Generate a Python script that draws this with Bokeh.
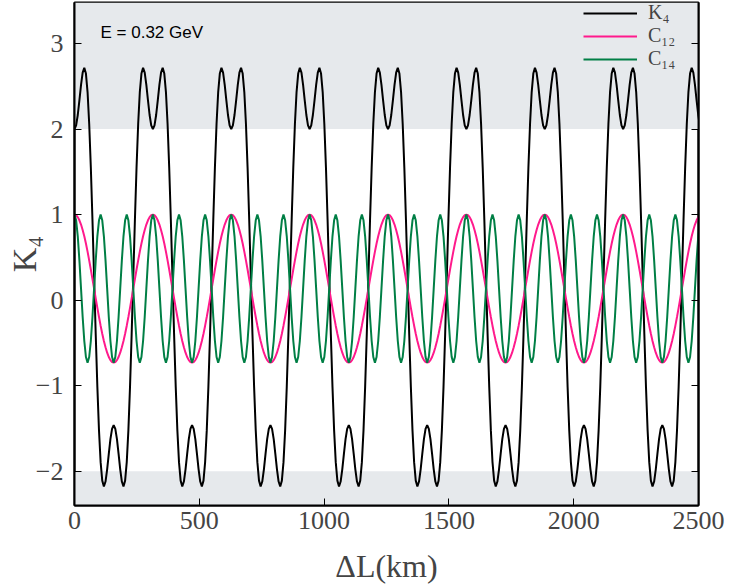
import numpy as np
from bokeh.plotting import figure
from bokeh.models import (BoxAnnotation, Legend, LegendItem, Label, LinearAxis,
                          FixedTicker, Range1d, ColumnDataSource)
from bokeh.embed import file_html
from bokeh.resources import INLINE

# ---- data ----
energy_text = "E = 0.32 GeV"
x_title = "\u0394L(km)"
y_title = "K\u2084"
period_km = 314.0          # length of one full oscillation of C12 (km)
n_periods = 8              # oscillations of C12 shown in 0..2500 km
samples_per_period = 48

# one period of each curve, sampled at 48 equally spaced points
K4_period = [2.000, 2.044, 2.165, 2.337, 2.517, 2.660, 2.717, 2.649, 2.433, 2.062,
             1.553, 0.940, 0.270, -0.400, -1.013, -1.522, -1.893, -2.109, -2.177, -2.120,
             -1.977, -1.797, -1.625, -1.504, -1.460, -1.504, -1.625, -1.797, -1.977, -2.120,
             -2.177, -2.109, -1.893, -1.522, -1.013, -0.400, 0.270, 0.940, 1.553, 2.062,
             2.433, 2.649, 2.717, 2.660, 2.517, 2.337, 2.165, 2.044]
C12_period = [1.000, 0.993, 0.971, 0.934, 0.884, 0.821, 0.747, 0.662, 0.568, 0.466,
              0.359, 0.248, 0.135, 0.022, -0.089, -0.196, -0.298, -0.392, -0.477, -0.551,
              -0.614, -0.664, -0.701, -0.723, -0.730, -0.723, -0.701, -0.664, -0.614, -0.551,
              -0.477, -0.392, -0.298, -0.196, -0.089, 0.022, 0.135, 0.248, 0.359, 0.466,
              0.568, 0.662, 0.747, 0.821, 0.884, 0.934, 0.971, 0.993]
C14_period = [1.000, 0.934, 0.747, 0.466, 0.135, -0.196, -0.477, -0.664,
              -0.730, -0.664, -0.477, -0.196, 0.135, 0.466, 0.747, 0.934,
              1.000, 0.934, 0.747, 0.466, 0.135, -0.196, -0.477, -0.664,
              -0.730, -0.664, -0.477, -0.196, 0.135, 0.466, 0.747, 0.934,
              1.000, 0.934, 0.747, 0.466, 0.135, -0.196, -0.477, -0.664,
              -0.730, -0.664, -0.477, -0.196, 0.135, 0.466, 0.747, 0.934]

x_ticks = [0, 500, 1000, 1500, 2000, 2500]
y_ticks = [-2, -1, 0, 1, 2, 3]
y_tick_labels = {-2: "\u22122", -1: "\u22121", 0: "0", 1: "1", 2: "2", 3: "3"}
series_names = ["K\u2084", "C\u2081\u2082", "C\u2081\u2084"]
series_colors = ["#000000", "#ff1a8c", "#007f45"]

# ---- assemble ----
n = n_periods * samples_per_period
L = np.arange(n + 1) * period_km / samples_per_period
def full(per):
    return np.append(np.tile(per, n_periods), per[0])

src = ColumnDataSource(dict(L=L, K4=full(K4_period), C12=full(C12_period), C14=full(C14_period)))

p = figure(width=733, height=586, x_range=Range1d(0, 2500), y_range=Range1d(-2.40, 3.48),
           output_backend="svg", toolbar_location=None,
           min_border_left=74, min_border_right=35, min_border_top=2, min_border_bottom=80)
p.xgrid.visible = False
p.ygrid.visible = False
p.outline_line_color = "black"
p.outline_line_width = 2
p.background_fill_color = "white"

# shaded regions |K4| > 2
p.add_layout(BoxAnnotation(bottom=2, fill_color="#e6e9ec", fill_alpha=1, line_color=None, level="underlay"))
p.add_layout(BoxAnnotation(top=-2, fill_color="#e6e9ec", fill_alpha=1, line_color=None, level="underlay"))

r_k4 = p.line("L", "K4", source=src, line_color=series_colors[0], line_width=2)
r_c12 = p.line("L", "C12", source=src, line_color=series_colors[1], line_width=2)
r_c14 = p.line("L", "C14", source=src, line_color=series_colors[2], line_width=2)

serif = "Liberation Serif"
for ax in (p.xaxis[0], p.yaxis[0]):
    ax.axis_line_width = 2
    ax.major_tick_in = 7
    ax.major_tick_out = 0
    ax.minor_tick_in = 0
    ax.minor_tick_out = 0
    ax.major_label_text_font = serif
    ax.major_label_text_font_size = "26px"
    ax.axis_label_text_font = serif
    ax.axis_label_text_font_style = "normal"
p.xaxis[0].axis_label_text_font_size = "32px"
p.yaxis[0].axis_label_text_font_size = "34px"
p.xaxis[0].ticker = FixedTicker(ticks=x_ticks)
p.yaxis[0].ticker = FixedTicker(ticks=y_ticks)
p.yaxis[0].major_label_overrides = y_tick_labels
p.xaxis[0].axis_label = x_title
p.yaxis[0].axis_label = y_title
p.xaxis[0].major_label_standoff = 6
p.xaxis[0].axis_label_standoff = 16
p.yaxis[0].major_label_standoff = 11
p.yaxis[0].axis_label_standoff = -10

right = LinearAxis(ticker=FixedTicker(ticks=y_ticks), major_tick_in=7, major_tick_out=0,
                   minor_tick_in=0, minor_tick_out=0, axis_line_width=2,
                   major_label_overrides={t: "" for t in y_ticks}, major_label_standoff=0,
                   axis_label_standoff=0)
p.add_layout(right, "right")

legend = Legend(items=[LegendItem(label=series_names[0], renderers=[r_k4]),
                       LegendItem(label=series_names[1], renderers=[r_c12]),
                       LegendItem(label=series_names[2], renderers=[r_c14])],
                location=(509, 435), glyph_width=54, glyph_height=20, label_height=20,
                label_standoff=11, spacing=-4, padding=0, margin=0,
                background_fill_alpha=0, border_line_color=None,
                label_text_font=serif, label_text_font_size="20px")
p.add_layout(legend)

p.add_layout(Label(x=26, y=473, x_units="screen", y_units="screen", text=energy_text,
                   text_font="Liberation Sans", text_font_size="17px",
                   text_baseline="alphabetic", text_color="black"))

open("out.html", "w").write(file_html(p, INLINE))
